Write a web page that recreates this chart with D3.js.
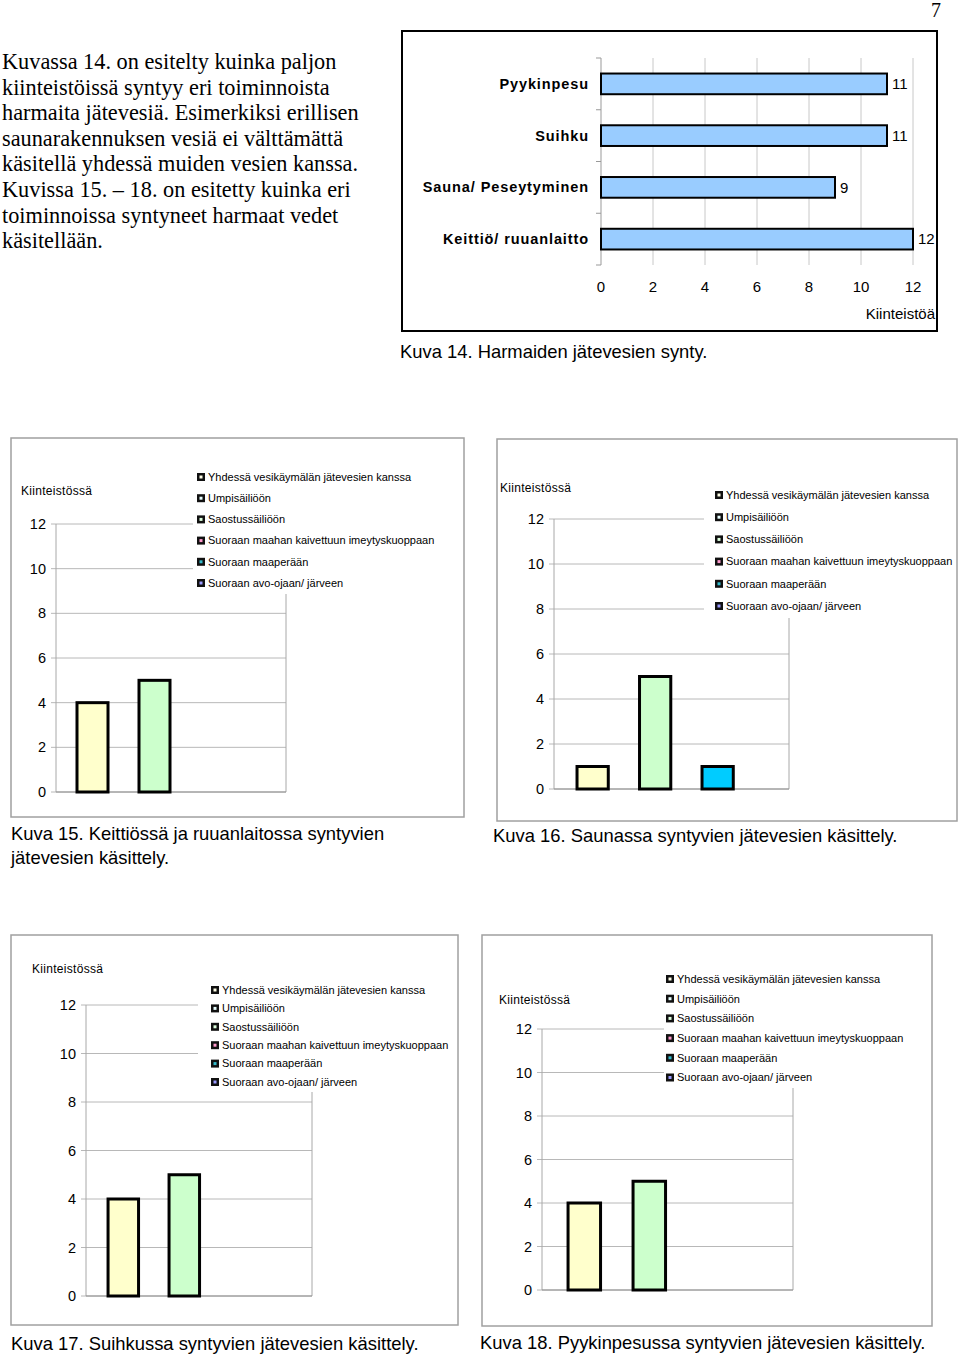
<!DOCTYPE html>
<html><head><meta charset="utf-8">
<script src="https://cdn.jsdelivr.net/npm/d3@7"></script>
<style>
html,body{margin:0;padding:0;background:#fff;}
svg{display:block;}
text{font-family:"Liberation Sans",Arial,sans-serif;fill:#000;}
.serif{font-family:"Liberation Serif","Times New Roman",serif;}
</style></head>
<body>
<script>
// ---------- DATA ----------
const pageNumber = "7";
const introLines = [
  "Kuvassa 14. on esitelty kuinka paljon",
  "kiinteistöissä syntyy eri toiminnoista",
  "harmaita jätevesiä. Esimerkiksi erillisen",
  "saunarakennuksen vesiä ei välttämättä",
  "käsitellä yhdessä muiden vesien kanssa.",
  "Kuvissa 15. – 18. on esitetty kuinka eri",
  "toiminnoissa syntyneet harmaat vedet",
  "käsitellään."
];
const activities = ["Pyykinpesu", "Suihku", "Sauna/ Peseytyminen", "Keittiö/ ruuanlaitto"];
const activityCounts = [11, 11, 9, 12];
const activityTicks = [0, 2, 4, 6, 8, 10, 12];
const activityAxisTitle = "Kiinteistöä";
const caption14 = "Kuva 14. Harmaiden jätevesien synty.";

const legendSeries = [
  "Yhdessä vesikäymälän jätevesien kanssa",
  "Umpisäiliöön",
  "Saostussäiliöön",
  "Suoraan maahan kaivettuun imeytyskuoppaan",
  "Suoraan maaperään",
  "Suoraan avo-ojaan/ järveen"
];
const legendInnerColors = ["#ffffe8", "#e8ffff", "#ddffdd", "#ff99cc", "#33bbcc", "#9999ff"];
const barSlots = ["Umpisäiliöön", "Saostussäiliöön", "Suoraan maaperään"];
const barColors = ["#ffffcc", "#ccffcc", "#00ccff"];
const kuva15Values = [4, 5, 0];
const kuva16Values = [1, 5, 1];
const kuva17Values = [4, 5, 0];
const kuva18Values = [4, 5, 0];
const countTicks = [0, 2, 4, 6, 8, 10, 12];
const countAxisTitle = "Kiinteistössä";
const caption15 = ["Kuva 15. Keittiössä ja ruuanlaitossa syntyvien", "jätevesien käsittely."];
const caption16 = ["Kuva 16. Saunassa syntyvien jätevesien käsittely."];
const caption17 = ["Kuva 17. Suihkussa syntyvien jätevesien käsittely."];
const caption18 = ["Kuva 18. Pyykinpesussa syntyvien jätevesien käsittely."];

// ---------- DRAW ----------
const W = 960, H = 1356;
const svg = d3.select("body").append("svg").attr("width", W).attr("height", H);

svg.append("text").attr("class","serif").attr("x", 936).attr("y", 17)
  .attr("text-anchor","middle").attr("font-size", 20).text(pageNumber);

svg.append("g").selectAll("text").data(introLines).join("text")
  .attr("class","serif").attr("x", 2).attr("y", (d,i) => 69 + i*25.6)
  .attr("font-size", 22.3).text(d => d);

// ----- Kuva 14: horizontal bar chart -----
(function(){
  const g = svg.append("g");
  g.append("rect").attr("x",402).attr("y",31).attr("width",535).attr("height",300)
    .attr("fill","none").attr("stroke","#000").attr("stroke-width",2);
  const x = d3.scaleLinear().domain([0,12]).range([601,913]);
  const y = d3.scaleBand().domain(activities).range([58,265]).paddingInner(0.6).paddingOuter(0.3);
  g.append("g").selectAll("line").data(activityTicks.filter(t=>t>0)).join("line")
    .attr("x1",d=>x(d)).attr("x2",d=>x(d)).attr("y1",58).attr("y2",265)
    .attr("stroke","#c8c8c8").attr("stroke-width",1);
  g.append("line").attr("x1",x(0)).attr("x2",x(0)).attr("y1",58).attr("y2",265)
    .attr("stroke","#999").attr("stroke-width",1);
  const bounds = activities.map(a=>y(a)-y.step()*y.paddingInner()/2).concat([265]);
  g.append("g").selectAll("line").data(bounds).join("line")
    .attr("x1",x(0)-5).attr("x2",x(0)).attr("y1",d=>d).attr("y2",d=>d)
    .attr("stroke","#999");
  g.append("g").selectAll("rect").data(activities).join("rect")
    .attr("x",x(0)).attr("y",d=>y(d)).attr("width",(d,i)=>x(activityCounts[i])-x(0))
    .attr("height",y.bandwidth()).attr("fill","#99ccff").attr("stroke","#000").attr("stroke-width",2);
  g.append("g").selectAll("text").data(activities).join("text")
    .attr("x",(d,i)=>x(activityCounts[i])+5).attr("y",d=>y(d)+y.bandwidth()/2).attr("dy","0.35em")
    .attr("font-size",15).text((d,i)=>activityCounts[i]);
  g.append("g").selectAll("text").data(activities).join("text")
    .attr("x",589).attr("y",d=>y(d)+y.bandwidth()/2).attr("dy","0.35em")
    .attr("text-anchor","end").attr("font-size",14.5).attr("font-weight","bold")
    .attr("letter-spacing","0.9px").text(d=>d);
  g.append("g").selectAll("text").data(activityTicks).join("text")
    .attr("x",d=>x(d)).attr("y",287).attr("dy","0.35em").attr("text-anchor","middle")
    .attr("font-size",15).text(d=>d);
  g.append("text").attr("x",935).attr("y",314).attr("dy","0.35em").attr("text-anchor","end")
    .attr("font-size",15).text(activityAxisTitle);
  g.append("text").attr("x",400).attr("y",352).attr("dy","0.35em")
    .attr("font-size",18.4).text(caption14);
})();

// ----- Kuva 15-18: vertical bar charts -----
function drawChart(cfg){
  const g = svg.append("g");
  g.append("rect").attr("x",cfg.box[0]).attr("y",cfg.box[1])
    .attr("width",cfg.box[2]-cfg.box[0]).attr("height",cfg.box[3]-cfg.box[1])
    .attr("fill","none").attr("stroke","#a0a0a0").attr("stroke-width",1.5);
  const [pl, pr, pt, pb] = cfg.plot;
  const y = d3.scaleLinear().domain([0,12]).range([pb, pt]);
  const x = d3.scaleBand().domain(barSlots).range([pl+cfg.band[0], pl+cfg.band[1]])
    .paddingInner(0.5).paddingOuter(0.25);
  g.append("g").selectAll("line").data(countTicks).join("line")
    .attr("x1",pl-5).attr("x2",pr).attr("y1",d=>y(d)).attr("y2",d=>y(d))
    .attr("stroke","#b8b8b8").attr("stroke-width",1);
  g.append("line").attr("x1",pl).attr("x2",pl).attr("y1",pt).attr("y2",pb)
    .attr("stroke","#a8a8a8");
  g.append("line").attr("x1",pr).attr("x2",pr).attr("y1",pt).attr("y2",pb)
    .attr("stroke","#a8a8a8");
  g.append("line").attr("x1",pl).attr("x2",pr).attr("y1",pb).attr("y2",pb)
    .attr("stroke","#909090");
  g.append("g").selectAll("text").data(countTicks).join("text")
    .attr("x",pl-10).attr("y",d=>y(d)).attr("dy","0.35em").attr("text-anchor","end")
    .attr("font-size",14.5).text(d=>d);
  g.append("text").attr("x",cfg.titlePos[0]).attr("y",cfg.titlePos[1]).attr("dy","0.35em")
    .attr("font-size",12).attr("letter-spacing","0.3px").text(countAxisTitle);
  const bars = barSlots.map((s,i)=>({slot:s, v:cfg.values[i], c:barColors[i]})).filter(d=>d.v>0);
  g.append("g").selectAll("rect").data(bars).join("rect")
    .attr("x",d=>x(d.slot)).attr("y",d=>y(d.v)).attr("width",x.bandwidth())
    .attr("height",d=>y(0)-y(d.v)).attr("fill",d=>d.c)
    .attr("stroke","#000").attr("stroke-width",3);
  const lg = cfg.legend;
  g.append("rect").attr("x",lg.bg[0]).attr("y",lg.bg[1]).attr("width",lg.bg[2]-lg.bg[0])
    .attr("height",lg.bg[3]-lg.bg[1]).attr("fill","#fff");
  const rows = g.append("g").selectAll("g").data(legendSeries).join("g")
    .attr("transform",(d,i)=>`translate(${lg.x},${lg.y0 + i*lg.dy})`);
  rows.append("rect").attr("x",0).attr("y",-4).attr("width",8).attr("height",8).attr("fill","#111");
  rows.append("rect").attr("x",2.5).attr("y",-1.5).attr("width",3).attr("height",3)
    .attr("fill",(d,i)=>legendInnerColors[i]);
  rows.append("text").attr("x",11).attr("y",0).attr("dy","0.35em").attr("font-size",11)
    .text(d=>d);
  g.append("g").selectAll("text").data(cfg.caption).join("text")
    .attr("x",cfg.capPos[0]).attr("y",(d,i)=>cfg.capPos[1]+i*24).attr("dy","0.35em")
    .attr("font-size",18.4).text(d=>d);
}

drawChart({box:[11,438,464,817], plot:[56,286,524,792], band:[5.5,191.5], values:kuva15Values,
  titlePos:[21,491], legend:{bg:[193,465,460,594], x:197, y0:477, dy:21.2}, caption:caption15, capPos:[11,834]});
drawChart({box:[497,439,957,821], plot:[554,789,519,789], band:[7.4,194.9], values:kuva16Values,
  titlePos:[500,488], legend:{bg:[704,483,955,618], x:715, y0:495, dy:22.2}, caption:caption16, capPos:[493,836]});
drawChart({box:[11,935,458,1325], plot:[86,312,1005,1296], band:[6.8,189.8], values:kuva17Values,
  titlePos:[32,969], legend:{bg:[198,978,450,1092], x:211, y0:990, dy:18.4}, caption:caption17, capPos:[11,1344]});
drawChart({box:[482,935,932,1326], plot:[542,793,1029,1290], band:[9.8,204.8], values:kuva18Values,
  titlePos:[499,1000], legend:{bg:[664,967,930,1088], x:666, y0:979, dy:19.7}, caption:caption18, capPos:[480,1343]});
</script>
</body></html>
